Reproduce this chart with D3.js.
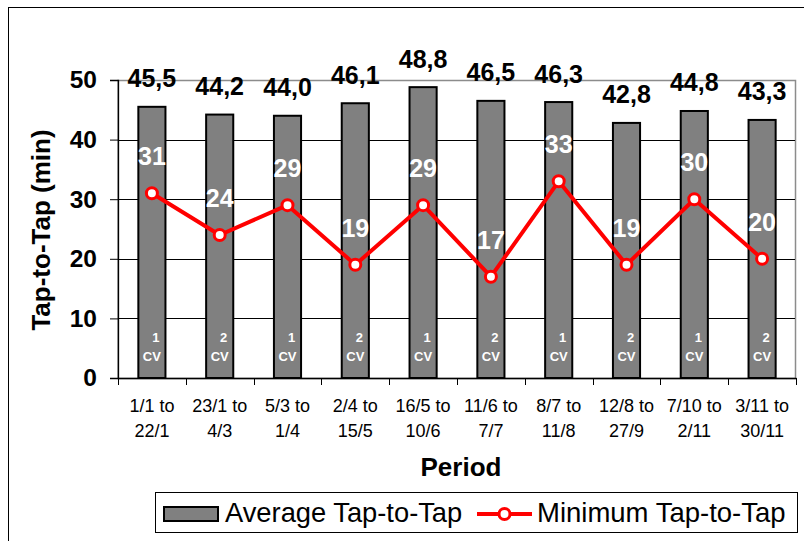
<!DOCTYPE html>
<html>
<head>
<meta charset="utf-8">
<script src="https://cdn.jsdelivr.net/npm/d3@7"></script>
<style>
  html, body { margin: 0; padding: 0; background: #fff; }
  svg { display: block; font-family: "Liberation Sans", Arial, sans-serif; }
</style>
</head>
<body>
<svg id="chart" width="804" height="541"></svg>
<script>
const periodFrom = ["1/1 to", "23/1 to", "5/3 to", "2/4 to", "16/5 to", "11/6 to", "8/7 to", "12/8 to", "7/10 to", "3/11 to"];
const periodTo = ["22/1", "4/3", "1/4", "15/5", "10/6", "7/7", "11/8", "27/9", "2/11", "30/11"];
const averageTap = [45.5, 44.2, 44.0, 46.1, 48.8, 46.5, 46.3, 42.8, 44.8, 43.3];
const minimumTap = [31, 24, 29, 19, 29, 17, 33, 19, 30, 20];
const cvCount = [1, 2, 1, 2, 1, 2, 1, 2, 1, 2];
const yTicks = [0, 10, 20, 30, 40, 50];

const svg = d3.select("#chart");
const plot = { left: 118, right: 796, top: 80, bottom: 378 };
const fmt = d3.formatLocale({ decimal: ",", thousands: ".", grouping: [3], currency: ["", ""] }).format(".1f");

// outer chart border
svg.append("rect").attr("x", 8.5).attr("y", 7.5).attr("width", 805).attr("height", 545)
  .attr("fill", "#fff").attr("stroke", "#000").attr("stroke-width", 1);

const x = d3.scaleBand().domain(d3.range(averageTap.length)).range([plot.left, plot.right]).paddingInner(0.6).paddingOuter(0.3);
const xStep = d3.scaleBand().domain(d3.range(averageTap.length)).range([plot.left, plot.right]);
const y = d3.scaleLinear().domain([0, 50]).range([plot.bottom, plot.top]);

// plot area border (gray)
svg.append("rect").attr("x", plot.left).attr("y", plot.top + 0.5)
  .attr("width", plot.right - plot.left - 0.5).attr("height", plot.bottom - plot.top)
  .attr("fill", "none").attr("stroke", "#8c8c8c").attr("stroke-width", 1.5);

// gridlines
svg.append("g").selectAll("line").data(yTicks.filter(t => t > 0 && t < 50)).join("line")
  .attr("x1", plot.left).attr("x2", plot.right - 1)
  .attr("y1", d => Math.round(y(d)) + 0.5).attr("y2", d => Math.round(y(d)) + 0.5)
  .attr("stroke", "#000").attr("stroke-width", 1);

// y axis
const yAxis = svg.append("g").attr("transform", `translate(${plot.left},0)`)
  .call(d3.axisLeft(y).tickValues(yTicks).tickSize(8).tickPadding(13).tickFormat(d3.format("d")));
yAxis.select(".domain").attr("stroke", "#000").attr("stroke-width", 1.3);
yAxis.selectAll(".tick line").attr("stroke", "#000");
yAxis.selectAll(".tick text").attr("font-size", 24.5).attr("font-weight", "bold")
  .attr("font-family", "'Liberation Sans', Arial, sans-serif").attr("fill", "#000");

// bars
svg.append("g").selectAll("rect").data(averageTap).join("rect")
  .attr("x", (d, i) => x(i)).attr("width", x.bandwidth())
  .attr("y", d => y(d)).attr("height", d => y(0) - y(d))
  .attr("fill", "#808080").attr("stroke", "#000").attr("stroke-width", 2);

// x axis
const xAxis = svg.append("g").attr("transform", `translate(0,${plot.bottom})`)
  .call(d3.axisBottom(xStep).tickSize(0).tickFormat(""));
xAxis.select(".domain").attr("stroke", "#000").attr("stroke-width", 1.3);
const boundaries = d3.range(averageTap.length + 1).map(i => plot.left + i * xStep.step());
svg.append("g").selectAll("line").data(boundaries).join("line")
  .attr("x1", d => Math.round(d) + 0.5).attr("x2", d => Math.round(d) + 0.5)
  .attr("y1", plot.bottom).attr("y2", plot.bottom + 7)
  .attr("stroke", "#000").attr("stroke-width", 1);

const xl = svg.append("g").selectAll("text").data(periodFrom).join("text")
  .attr("x", (d, i) => xStep(i) + xStep.bandwidth() / 2)
  .attr("y", 412).attr("text-anchor", "middle").attr("font-size", 18).attr("fill", "#000");
xl.append("tspan").attr("x", (d, i) => xStep(i) + xStep.bandwidth() / 2).text(d => d);
xl.append("tspan").attr("x", (d, i) => xStep(i) + xStep.bandwidth() / 2).attr("dy", 25)
  .text((d, i) => periodTo[i]);

// axis titles
svg.append("text").attr("x", 461).attr("y", 476).attr("text-anchor", "middle")
  .attr("font-size", 26).attr("font-weight", "bold").text("Period");
svg.append("text").attr("transform", "translate(50,230) rotate(-90)").attr("text-anchor", "middle")
  .attr("font-size", 26).attr("font-weight", "bold").text("Tap-to-Tap (min)");

// average labels
svg.append("g").selectAll("text").data(averageTap).join("text")
  .attr("x", (d, i) => x(i) + x.bandwidth() / 2).attr("y", d => y(d) - 19.5)
  .attr("text-anchor", "middle").attr("font-size", 25).attr("font-weight", "bold").attr("fill", "#000")
  .text(d => fmt(d));

// CV labels
const cvl = svg.append("g").selectAll("text").data(cvCount).join("text")
  .attr("text-anchor", "middle").attr("font-size", 13).attr("font-weight", "bold").attr("fill", "#fff");
cvl.append("tspan").attr("x", (d, i) => x(i) + x.bandwidth() / 2 + 4).attr("y", 342).text(d => d);
cvl.append("tspan").attr("x", (d, i) => x(i) + x.bandwidth() / 2).attr("y", 361).text("CV");

// minimum line
const cx = i => x(i) + x.bandwidth() / 2;
svg.append("path").datum(minimumTap)
  .attr("d", d3.line().x((d, i) => cx(i)).y(d => y(d)))
  .attr("fill", "none").attr("stroke", "#ff0000").attr("stroke-width", 4).attr("stroke-linejoin", "round");
svg.append("g").selectAll("circle").data(minimumTap).join("circle")
  .attr("cx", (d, i) => cx(i)).attr("cy", d => y(d)).attr("r", 5.5)
  .attr("fill", "#fff").attr("stroke", "#ff0000").attr("stroke-width", 3);

// minimum labels
svg.append("g").selectAll("text").data(minimumTap).join("text")
  .attr("x", (d, i) => cx(i)).attr("y", d => y(d) - 28)
  .attr("text-anchor", "middle").attr("font-size", 25).attr("font-weight", "bold").attr("fill", "#fff")
  .text(d => d);

// legend
const lg = svg.append("g");
lg.append("rect").attr("x", 155.5).attr("y", 492.5).attr("width", 642).attr("height", 40)
  .attr("fill", "#fff").attr("stroke", "#000").attr("stroke-width", 1);
lg.append("rect").attr("x", 164).attr("y", 507).attr("width", 54).attr("height", 14)
  .attr("fill", "#808080").attr("stroke", "#000").attr("stroke-width", 2);
lg.append("text").attr("x", 225).attr("y", 522).attr("font-size", 27.3).attr("fill", "#000").text("Average Tap-to-Tap");
lg.append("line").attr("x1", 477).attr("x2", 532).attr("y1", 514).attr("y2", 514)
  .attr("stroke", "#ff0000").attr("stroke-width", 4);
lg.append("circle").attr("cx", 504.5).attr("cy", 514).attr("r", 5.5)
  .attr("fill", "#fff").attr("stroke", "#ff0000").attr("stroke-width", 3);
lg.append("text").attr("x", 537).attr("y", 522).attr("font-size", 27.5).attr("fill", "#000").text("Minimum Tap-to-Tap");
</script>
</body>
</html>
